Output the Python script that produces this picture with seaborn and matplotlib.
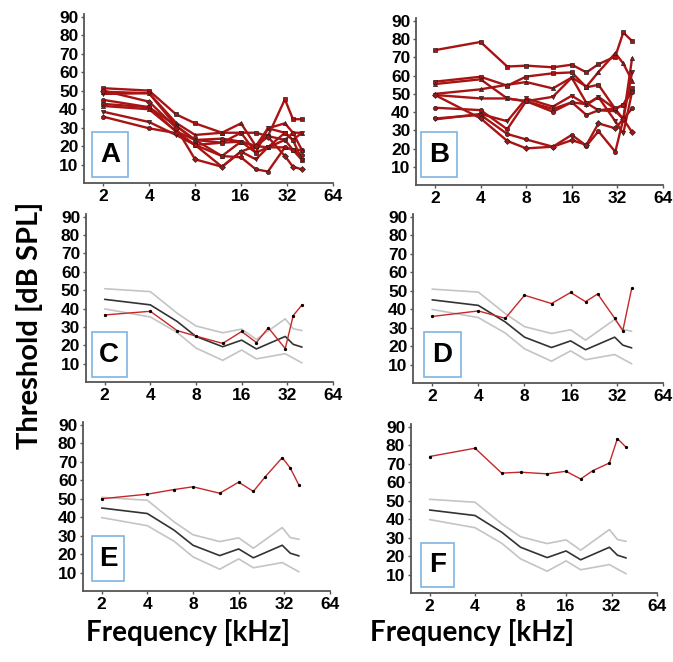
import matplotlib
matplotlib.use('Agg')
import numpy as np
import pandas as pd
import matplotlib.pyplot as plt
import seaborn as sns
from matplotlib.patches import Rectangle

# frequencies [kHz] at which thresholds were measured
freqs = [2, 4, 6, 8, 12, 16, 20, 24, 31, 35, 40]
mean_freqs = [2, 4, 6, 8, 12, 16, 20, 31, 35, 40]

# group mean +/- SD (panels C-F)
mean_thr = [45, 42, 33, 24.8, 19.2, 22.8, 18, 24.8, 20.5, 19]
upper_thr = [50.8, 49.2, 37.5, 30.5, 26.8, 28.8, 23.2, 34.4, 29, 28]
lower_thr = [39.8, 35.4, 27, 18.5, 11.8, 17.4, 12.6, 15.4, 13, 10.4]

# single animals shown in C-F
animal_c = [36.5, 38.5, 28, 25, 21, 27.5, 21.5, 29.5, 18.2, 36.2, 42]
animal_d = [36, 39, 35, 47.5, 43, 49, 44, 48.2, 35, 28.3, 51.2]
animal_e = [50, 52.5, 55, 56.5, 53, 59, 54, 62, 72.3, 66.7, 57.3]
animal_f = [74, 78.5, 65, 65.5, 64.6, 66, 61.8, 66.3, 70.5, 83.7, 79]

# panel A: individual thresholds
thr_a = [
    [51.3, 50, 37.2, 32.3, 27.2, 27.2, 27.2, 25.4, 45.3, 34.5, 34.5],
    [49.4, 48.6, 32.6, 26, 27.2, 32.3, 20, 29.6, 32.3, 27.2, 27.2],
    [48.2, 48.6, 30.9, 23.3, 21.8, 27.2, 16.4, 29.6, 27.2, 23.3, 27.2],
    [45, 41, 31, 23.3, 24, 22.4, 20, 25.4, 23.3, 27.2, 17.9],
    [42.8, 41, 28, 20.6, 21.8, 22.4, 16.4, 19.3, 27.2, 23.3, 12.5],
    [41.7, 39.9, 28, 23.3, 14.6, 22.4, 20, 19.3, 19.3, 17.9, 17.9],
    [38.6, 33, 26, 20.6, 8.8, 17, 12.8, 19.3, 23.3, 17.9, 12.5],
    [35.9, 29.6, 27, 20.6, 14.6, 13.9, 7.4, 6.2, 19.3, 17.9, 15],
    [50, 44, 30, 12.8, 8.8, 17, 20, 25, 14.6, 8.8, 7.4],
]

# panel B: individual thresholds (includes the animals of C-F)
thr_b = [
    animal_f, animal_e, animal_d, animal_c,
    [56.7, 59.4, 54.5, 59.5, 61.3, 61.8, 53.6, 55, 41.7, 44, 53],
    [55.4, 58, 47.5, 46, 41.7, 45.4, 44.3, 48.4, 41.7, 36.2, 69.5],
    [49.4, 47.5, 47.5, 46, 48.4, 58.9, 45, 41, 40.5, 36.2, 61.8],
    [42.4, 41.1, 30.6, 46, 40.2, 45.4, 38.4, 41, 42, 44, 51.2],
    [49.4, 36.6, 24.2, 20.1, 21, 24.6, 22, 33.8, 31.1, 36.2, 29],
]

W, H = 673, 662
sns.set_style('ticks')
plt.rcParams['font.family'] = ['Liberation Sans', 'DejaVu Sans']
plt.rcParams['text.color'] = 'black'

fig = plt.figure(figsize=(W / 100, H / 100), dpi=100)

# panel pixel geometry: x left, x right, y of 90 dB, y of 0 dB
geom = {
    'A': (84, 333, 16.7, 183),
    'B': (416, 663, 21, 185),
    'C': (85.7, 333, 216.7, 382),
    'D': (413, 663, 216.7, 383),
    'E': (82.7, 330, 425, 591),
    'F': (410.7, 657, 427, 593),
}
# label boxes: x0, x1, y0, y1 (pixels)
boxes = {
    'A': (92.3, 128.3, 132.3, 176.7),
    'B': (421.3, 456.7, 132.3, 176.7),
    'C': (92, 126.7, 332.3, 376.7),
    'D': (423.7, 461.3, 332.3, 376.7),
    'E': (92, 124.3, 536, 581),
    'F': (421.3, 453.7, 542.7, 586.7),
}

dark_red = '#a81414'
red = '#c62828'
markers = ['s', '^', 'v', 'o', 's', '^', 'v', 'o', 'D']


def make_ax(key):
    x0, x1, y90, y0 = geom[key]
    pxdb = (y0 - y90) / 90.0
    top = y90 - 1.5 * pxdb
    ax = fig.add_axes([x0 / W, 1 - y0 / H, (x1 - x0) / W, (y0 - top) / H])
    return ax


def style_ax(ax, key):
    ax.set_xscale('log', base=2)
    ax.set_xlim(1.5, 64)
    ax.set_ylim(0, 91.5)
    ax.set_xticks([2, 4, 8, 16, 32, 64])
    ax.set_xticklabels(['2', '4', '8', '16', '32', '64'])
    ax.minorticks_off()
    ax.set_yticks(range(10, 91, 10))
    for lab in ax.get_xticklabels() + ax.get_yticklabels():
        lab.set_fontweight('bold')
        lab.set_fontsize(12.5)
        lab.set_color('black')
        lab.set_family(['Liberation Sans', 'DejaVu Sans'])
    ax.tick_params(length=2.5, width=1, color='#555555', pad=1.5)
    for s in ['left', 'bottom']:
        ax.spines[s].set_color('#555555')
        ax.spines[s].set_linewidth(1.3)
    sns.despine(ax=ax)
    ax.set_xlabel('')
    ax.set_ylabel('')
    ax.patch.set_alpha(0)
    if ax.get_legend() is not None:
        ax.get_legend().remove()
    bx0, bx1, by0, by1 = boxes[key]
    fig.add_artist(Rectangle((bx0 / W, 1 - by1 / H), (bx1 - bx0) / W, (by1 - by0) / H,
                             transform=fig.transFigure, facecolor='white',
                             edgecolor='#7fb3e3', lw=1.2, zorder=5))
    fig.text((bx0 + bx1) / 2 / W, 1 - (by0 + by1) / 2 / H, key, ha='center', va='center',
             fontsize=20, fontweight='bold', zorder=6, color='black',
             family=['Liberation Sans', 'DejaVu Sans'])


def individual_panel(key, rows):
    ax = make_ax(key)
    df = pd.DataFrame([(f'{key}{i}', f, v) for i, r in enumerate(rows) for f, v in zip(freqs, r)],
                      columns=['animal', 'freq', 'thr'])
    names = list(dict.fromkeys(df['animal']))
    sns.lineplot(data=df, x='freq', y='thr', hue='animal', style='animal', ax=ax,
                 palette=[dark_red] * len(names), markers=markers[:len(names)], dashes=False,
                 lw=1.7, markersize=3, markeredgecolor='#222222', markeredgewidth=0.5,
                 sort=False, legend=False)
    style_ax(ax, key)


def single_panel(key, animal):
    ax = make_ax(key)
    ref = pd.DataFrame({'freq': mean_freqs, 'mean': mean_thr,
                        'upper': upper_thr, 'lower': lower_thr})
    sns.lineplot(data=ref, x='freq', y='upper', color='#c4c4c4', lw=1.2, ax=ax)
    sns.lineplot(data=ref, x='freq', y='lower', color='#c4c4c4', lw=1.2, ax=ax)
    sns.lineplot(data=ref, x='freq', y='mean', color='#333333', lw=1.2, ax=ax)
    one = pd.DataFrame({'freq': freqs, 'thr': animal})
    sns.lineplot(data=one, x='freq', y='thr', color=red, lw=1.0, marker='o',
                 markersize=1.6, markerfacecolor='black', markeredgecolor='black', ax=ax)
    style_ax(ax, key)


individual_panel('A', thr_a)
individual_panel('B', thr_b)
single_panel('C', animal_c)
single_panel('D', animal_d)
single_panel('E', animal_e)
single_panel('F', animal_f)

lab_font = ['Lato', 'DejaVu Sans']
fig.text(188 / W, 1 - 632 / H, 'Frequency [kHz]', ha='center', va='center',
         fontsize=20, fontweight='bold', family=lab_font, color='black')
fig.text(472 / W, 1 - 632 / H, 'Frequency [kHz]', ha='center', va='center',
         fontsize=20, fontweight='bold', family=lab_font, color='black')
fig.text(30 / W, 1 - 325 / H, 'Threshold [dB SPL]', ha='center', va='center',
         rotation=90, fontsize=21, fontweight='bold', family=lab_font, color='black')

fig.savefig('out.png', dpi=100)
